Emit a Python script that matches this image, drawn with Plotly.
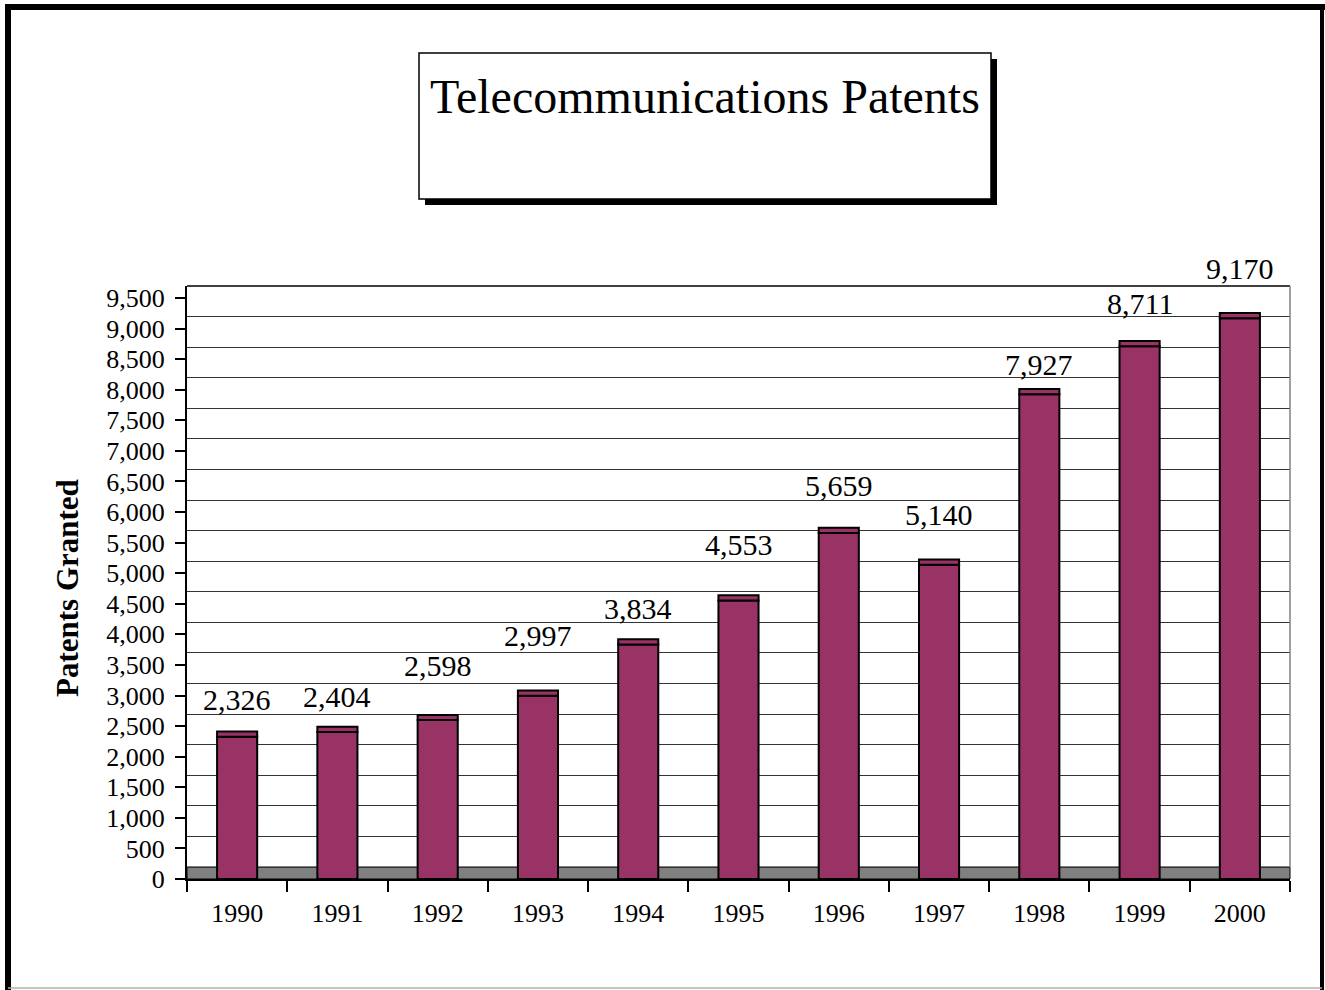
import plotly.graph_objects as go

# ---- data ----
years = ["1990", "1991", "1992", "1993", "1994", "1995", "1996", "1997", "1998", "1999", "2000"]
patents = [2326, 2404, 2598, 2997, 3834, 4553, 5659, 5140, 7927, 8711, 9170]
y_ticks = list(range(0, 10000, 500))

# ---- style ----
bar_color = "#993366"
serif = "Liberation Serif, Times New Roman, serif"
label_lift = [37, 35, 55, 60, 36, 56, 47, 50, 30, 43, 50]  # px above bar top, per label
top_face = 85  # thin "3D" top strip on each bar

W, H = 1325, 990


def px(sx):
    return sx / W


def py(sy):
    return (H - sy) / H


x0, x1 = 187, 1290       # plot area in screen px
y_top, y_bot = 286, 879
depth = 196              # back wall offset in data units

fig = go.Figure()

fig.add_trace(go.Bar(
    x=years, y=patents, width=0.4,
    marker=dict(color=bar_color, line=dict(color="black", width=2)),
    hoverinfo="x+y",
))
fig.add_trace(go.Bar(
    x=years, y=[top_face] * len(years), base=patents, width=0.4,
    marker=dict(color=bar_color, line=dict(color="black", width=2)),
    hoverinfo="skip",
))

# invisible trace on the offset axis so gridlines of the back wall show
fig.add_trace(go.Scatter(x=years, y=patents, yaxis="y2", mode="markers",
                         marker=dict(opacity=0), hoverinfo="skip", showlegend=False))

for i, (v, lift) in enumerate(zip(patents, label_lift)):
    fig.add_annotation(x=i, y=v, text=f"{v:,}", showarrow=False, yshift=lift,
                       yanchor="middle", font=dict(family=serif, size=30, color="black"))

dom_x = [px(x0), px(x1)]
dom_y = [py(y_bot), py(y_top)]

fig.update_layout(
    width=W, height=H,
    margin=dict(l=0, r=0, t=0, b=0, autoexpand=False),
    paper_bgcolor="white", plot_bgcolor="rgba(0,0,0,0)",
    barmode="overlay", showlegend=False,
    xaxis=dict(domain=dom_x, type="category", range=[-0.5, len(years) - 0.5], showgrid=False,
               automargin=False,
               ticks="outside", tickson="boundaries", ticklen=11, tickwidth=2, tickcolor="black",
               showline=True, linecolor="black", linewidth=2, tickangle=0, ticklabelstandoff=10,
               tickfont=dict(family=serif, size=26, color="black")),
    yaxis=dict(domain=dom_y, range=[0, 9500 + depth], showgrid=False, zeroline=False,
               automargin=False,
               tickvals=y_ticks, ticktext=[f"{t:,}" for t in y_ticks],
               ticks="outside", ticklen=10, tickwidth=2, tickcolor="black",
               showline=True, linecolor="black", linewidth=2, ticklabelstandoff=5,
               tickfont=dict(family=serif, size=26, color="black")),
    yaxis2=dict(domain=dom_y, overlaying="y", range=[-depth, 9500], showticklabels=False,
                automargin=False,
                showgrid=True, gridcolor="#333333", gridwidth=1, dtick=500, zeroline=False,
                layer="below traces"),
)

fig.add_annotation(x=px(67), y=py(588), xref="paper", yref="paper", xanchor="center",
                   yanchor="middle", textangle=-90, showarrow=False,
                   text="<b>Patents Granted</b>", font=dict(family=serif, size=31, color="black"))

# back wall frame, floor, title box and page border
fig.add_shape(type="rect", xref="paper", yref="y", x0=dom_x[0], x1=dom_x[1], y0=0, y1=depth,
              fillcolor="#808080", line=dict(color="black", width=1), layer="below")
fig.add_shape(type="line", xref="paper", yref="paper", x0=dom_x[0], x1=dom_x[1],
              y0=dom_y[1], y1=dom_y[1], line=dict(color="black", width=1.5))
fig.add_shape(type="line", xref="paper", yref="paper", x0=dom_x[1], x1=dom_x[1],
              y0=py(867), y1=dom_y[1], line=dict(color="#808080", width=1.5))

fig.add_shape(type="rect", xref="paper", yref="paper",
              x0=px(425), x1=px(997), y0=py(205), y1=py(59),
              fillcolor="black", line=dict(width=0))
fig.add_shape(type="rect", xref="paper", yref="paper",
              x0=px(419), x1=px(991), y0=py(199), y1=py(53),
              fillcolor="white", line=dict(color="black", width=1.5))
fig.add_annotation(x=px(705), y=py(97), xref="paper", yref="paper",
                   xanchor="center", yanchor="middle",
                   text="Telecommunications Patents", showarrow=False,
                   font=dict(family=serif, size=48, color="black"))

fig.add_shape(type="line", xref="paper", yref="paper", x0=px(5), x1=px(1325),
              y0=py(7), y1=py(7), line=dict(color="black", width=6))
fig.add_shape(type="line", xref="paper", yref="paper", x0=px(8), x1=px(8),
              y0=0, y1=py(4), line=dict(color="black", width=6))
fig.add_shape(type="line", xref="paper", yref="paper", x0=px(1322), x1=px(1322),
              y0=0, y1=py(4), line=dict(color="black", width=4))
fig.add_shape(type="line", xref="paper", yref="paper", x0=px(8), x1=px(1322),
              y0=py(988), y1=py(988), line=dict(color="#b0b0b0", width=1.5))

fig.write_html("out.html", config={"displayModeBar": False},
               post_script="document.body.style.margin='0';document.body.style.overflow='hidden';")
